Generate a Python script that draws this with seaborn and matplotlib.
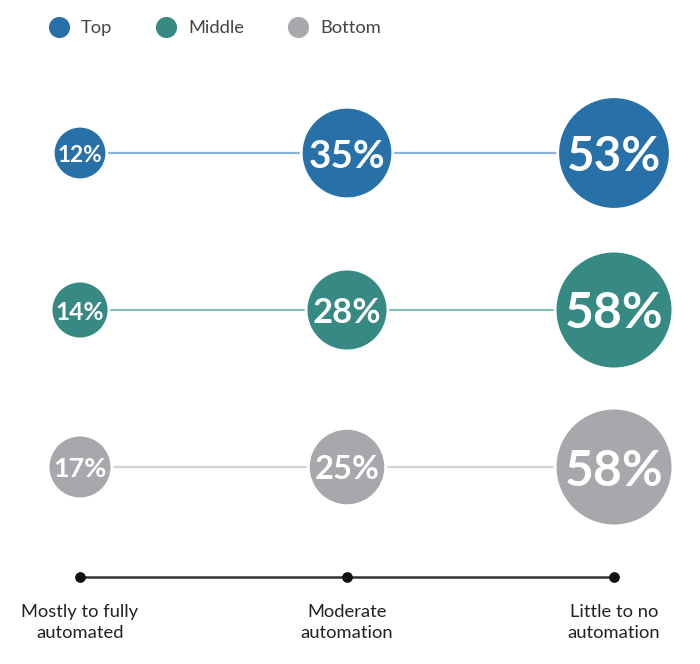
import numpy as np
import pandas as pd
import matplotlib
matplotlib.use("Agg")
import matplotlib.pyplot as plt
from matplotlib.lines import Line2D
import seaborn as sns

# ---- data ----
categories = ["Mostly to fully\nautomated", "Moderate\nautomation", "Little to no\nautomation"]
groups = ["Top", "Middle", "Bottom"]
top_vals = [12, 35, 53]
middle_vals = [14, 28, 58]
bottom_vals = [17, 25, 58]

colors = {"Top": "#2771a8", "Middle": "#368a83", "Bottom": "#a7a8ac"}
line_colors = {"Top": "#8ab6da", "Middle": "#82bdb7", "Bottom": "#d2d3d5"}

series = {"Top": top_vals, "Middle": middle_vals, "Bottom": bottom_vals}
rows = []
for gi, g in enumerate(groups):
    for ci, v in enumerate(series[g]):
        rows.append({"group": g, "cat": categories[ci], "xpos": ci, "ypos": gi, "value": v})
df = pd.DataFrame(rows)

sns.set_theme(style="white")
plt.rcParams["font.family"] = ["Lato", "DejaVu Sans"]

fig = plt.figure(figsize=(7.0, 6.64), dpi=100)
ax = fig.add_axes([0, 0, 1, 1])

K = 124.0  # pt^2 per percent
vmax = df["value"].max()

sns.lineplot(data=df, x="xpos", y="ypos", hue="group", palette=line_colors,
             units="group", estimator=None, sort=True, legend=False,
             linewidth=1.6, zorder=1, ax=ax)
sns.scatterplot(data=df, x="xpos", y="ypos", hue="group", palette=colors,
                size="value", sizes=(0, K * vmax), size_norm=(0, vmax),
                edgecolor="white", linewidth=2, legend=False, zorder=3, ax=ax)

for _, r in df.iterrows():
    rad_px = np.sqrt(K * r["value"]) / 2 / 0.72
    ax.text(r["xpos"], r["ypos"], f"{r['value']}%", ha="center", va="center_baseline",
            color="white", fontsize=0.61 * rad_px, fontweight="bold", zorder=4)

# bottom axis
axis_y = 2.70
ax.plot([0, len(categories) - 1], [axis_y, axis_y], color="#333333", lw=1.8, zorder=2)
ax.scatter(range(len(categories)), [axis_y] * len(categories), s=45, color="#111111", zorder=3)
for i, c in enumerate(categories):
    ax.text(i, 2.99, c, ha="center", va="center", fontsize=13.2, color="#222222",
            linespacing=1.38)

# pixel-based limits
ax.set_xlim(-80 / 267, 2 + (700 - 614) / 267)
ax.set_ylim((664 - 153) / 157, -153 / 157)
ax.axis("off")

handles = [Line2D([0], [0], marker="o", linestyle="none", markersize=16,
                  markerfacecolor=colors[g], markeredgecolor="white", markeredgewidth=0.8,
                  label=g) for g in groups]
fig.legend(handles=handles, loc="center left", bbox_to_anchor=(0.047, 1 - 28 / 664),
           ncol=3, frameon=False, fontsize=13.2, handletextpad=0.2,
           columnspacing=1.95, labelcolor="#444444", borderaxespad=0)

fig.savefig("out.png", dpi=100, facecolor="white")
